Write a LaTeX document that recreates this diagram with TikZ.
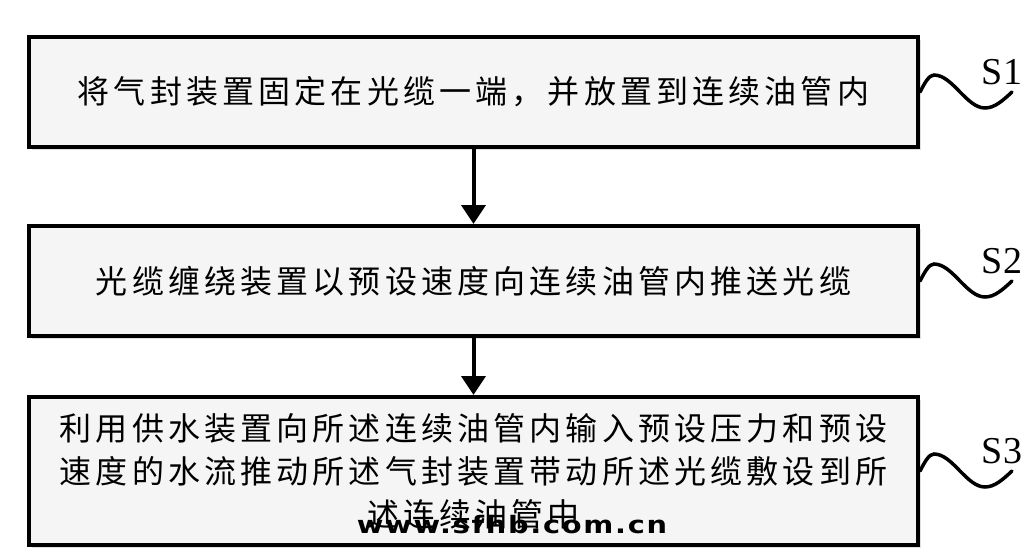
\documentclass[tikz,border=0pt]{standalone}
\usepackage{fontspec}
\usepackage{graphicx}
\usetikzlibrary{arrows.meta, positioning, calc, shadows}

\newfontfamily\cjkfont[LetterSpace=13]{Noto Sans CJK SC}
\newfontfamily\labelfont{Liberation Serif}
\newfontfamily\markfont[LetterSpace=6]{DejaVu Sans}

\begin{document}
\begin{tikzpicture}[x=1pt, y=-1pt,
    stepbox/.style={draw, line width=4pt, fill=gray!8, minimum width=889pt, inner sep=0pt,
        align=center, font=\cjkfont\fontsize{32}{43}\selectfont,
        drop shadow={shadow xshift=3pt, shadow yshift=-3pt, fill=gray!40, opacity=0.6}},
    flow/.style={line width=4pt, -{Triangle[length=19pt, width=24pt]}},
    wave/.style={line width=3.5pt, line cap=round},
    steplabel/.style={font=\labelfont\fontsize{38}{38}\selectfont}]
    \useasboundingbox (0,0) rectangle (1029,554);

    % Steps
    \node[stepbox, minimum height=110pt] (box1) at (473.5,92) {将气封装置固定在光缆一端，并放置到连续油管内};
    \node[stepbox, minimum height=110pt, below=75pt of box1] (box2) {光缆缠绕装置以预设速度向连续油管内推送光缆};
    \node[stepbox, minimum height=148pt, below=57pt of box2] (box3) {利用供水装置向所述连续油管内输入预设压力和预设\\速度的水流推动所述气封装置带动所述光缆敷设到所\\述连续油管中};

    \draw[flow] (box1.south) -- (box2.north);
    \draw[flow] (box2.south) -- (box3.north);

    % Step labels with wavy leaders
    \foreach \b/\s in {box1/S1, box2/S2, box3/S3} {
        \draw[wave] (\b.east) sin ++(14,-17) cos ++(26,17) sin ++(25,16) cos ++(27,-16);
        \node[steplabel] (\s) at ($(\b.east)+(82,-20)$) {\s};
    }

    \node[font=\markfont\bfseries\fontsize{24}{24}\selectfont, inner sep=0pt] (mark) at (512,525) {\scalebox{1.2}[1]{www.sfhb.com.cn}};
\end{tikzpicture}
\end{document}
